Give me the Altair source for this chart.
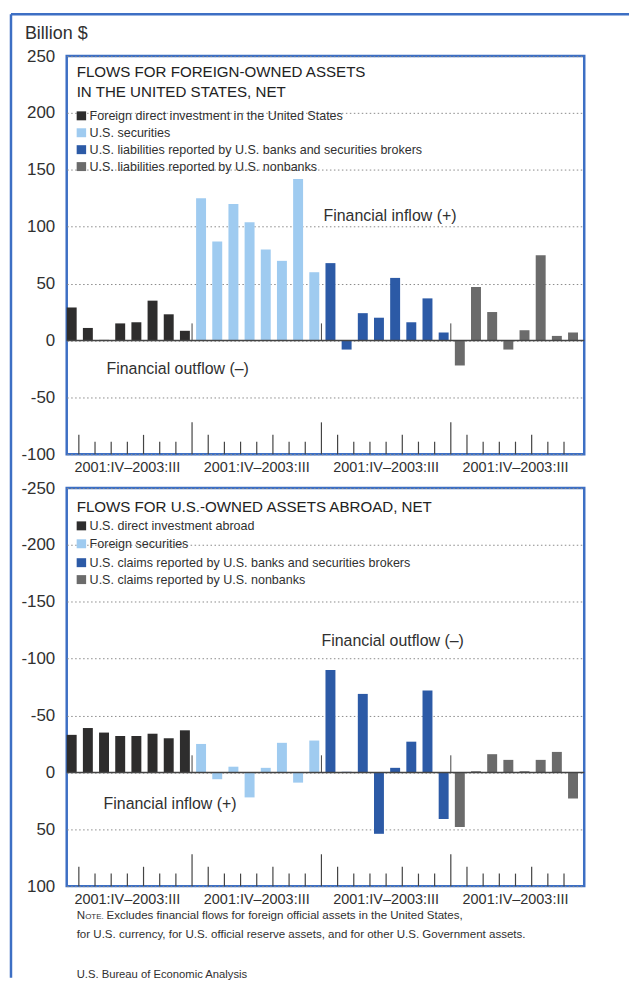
import altair as alt
import pandas as pd

# ---------------- data ----------------
quarters = ["2001:IV", "2002:I", "2002:II", "2002:III", "2002:IV", "2003:I", "2003:II", "2003:III"]
group_label = "2001:IV\u20132003:III"

top_title = ["FLOWS FOR FOREIGN-OWNED ASSETS", "IN THE UNITED STATES, NET"]
top_series = [
    "Foreign direct investment in the United States",
    "U.S. securities",
    "U.S. liabilities reported by U.S. banks and securities brokers",
    "U.S. liabilities reported by U.S. nonbanks",
]
top_fdi = [29, 11, 0.5, 15, 16, 35, 23, 8.5]
top_securities = [125, 87, 120, 104, 80, 70, 142, 60]
top_banks = [68, -8, 24, 20, 55, 16, 37, 7]
top_nonbanks = [-22, 47, 25, -8, 9, 75, 4, 7]

bottom_title = ["FLOWS FOR U.S.-OWNED ASSETS ABROAD, NET"]
bottom_series = [
    "U.S. direct investment abroad",
    "Foreign securities",
    "U.S. claims reported by U.S. banks and securities brokers",
    "U.S. claims reported by U.S. nonbanks",
]
bottom_dia = [-33, -39, -35, -32, -32, -34, -30, -37]
bottom_securities = [-25, 6, -5, 22, -4, -26, 9, -28]
bottom_banks = [-90, -0.5, -69, 54, -4, -27, -72, 41]
bottom_nonbanks = [48, -1, -16, -11, -1, -11, -18, 23]

top_ticks = [-100, -50, 0, 50, 100, 150, 200, 250]
bottom_ticks = [-250, -200, -150, -100, -50, 0, 50, 100]

# tick-mark length (billion $) at the end of each quarter within a group
minor_tick_len = [17, 11, 11, 11, 17, 11, 11, 28]

series_colors = ["#2e2d2d", "#9fcbf0", "#2c5aa6", "#6b6b6b"]
FRAME = "#3d6fc4"
TEXT = "#303030"
FONT = "Liberation Sans"

W, H = 520, 400
BAR_W = 0.615
NSLOT = 32


def bars_frame(names, values):
    rows = []
    for g, (name, vals) in enumerate(zip(names, values)):
        for q, (per, v) in enumerate(zip(quarters, vals)):
            s = g * 8 + q
            rows.append({"series": name, "quarter": per, "slot": s,
                         "slot_end": s + BAR_W, "value": v})
    return pd.DataFrame(rows)


def one(**kw):
    return alt.Chart(pd.DataFrame({k: [v] for k, v in kw.items()}))


def panel(names, values, ydomain, reverse, axis_values, title_lines, title_ys,
          legend_ys, annotations, direction, extras):
    df = bars_frame(names, values)
    xscale = alt.Scale(domain=[0, NSLOT], nice=False, zero=False)
    yscale = alt.Scale(domain=ydomain, nice=False, zero=False, reverse=reverse)
    yaxis = alt.Axis(values=axis_values, title=None, ticks=False, domain=False,
                     labelFontSize=17, labelPadding=12, labelColor=TEXT, labelFont=FONT,
                     labelExpr="'' + datum.value", grid=True, gridDash=[1.5, 2.5],
                     gridColor="#8a8a8a", gridWidth=1)

    def X(f):
        return alt.X(f, type="quantitative", scale=xscale, axis=None)

    def Y(f):
        return alt.Y(f, type="quantitative", scale=yscale, axis=yaxis)

    bars = alt.Chart(df).mark_bar().encode(
        x=X("slot"), x2="slot_end", y=Y("value"), y2=alt.datum(0),
        color=alt.Color("series:N", scale=alt.Scale(domain=names, range=series_colors), legend=None),
    )

    zero = one(z=0).mark_rule(color="#444444", strokeWidth=1.5).encode(y=Y("z"))

    base = ydomain[0] if not reverse else ydomain[1]
    tick_rows = []
    for j in range(1, NSLOT):
        ln = minor_tick_len[(j - 1) % 8]
        tick_rows.append({"tx": j - 0.25, "b": base, "t": base + direction * ln})
    ticks = alt.Chart(pd.DataFrame(tick_rows)).mark_rule(color="#444444", strokeWidth=1.2).encode(
        x=X("tx"), y=Y("b"), y2="t")

    sep_rows = [{"tx": j - 0.25, "b": 0, "t": direction * 15} for j in (8, 16, 24)]
    seps = alt.Chart(pd.DataFrame(sep_rows)).mark_rule(color="#444444", strokeWidth=1).encode(
        x=X("tx"), y=Y("b"), y2="t")

    glabels = alt.Chart(pd.DataFrame({"gx": [g * 8 + 3.75 for g in range(4)],
                                      "lab": [group_label] * 4})).mark_text(
        font=FONT, fontSize=14.5, color=TEXT, baseline="middle", align="center").encode(
        x=X("gx"), y=alt.value(H + 14), text="lab:N")

    layers = [bars, zero, seps, ticks, glabels]

    for line, yy in zip(title_lines, title_ys):
        layers.append(one(t=line).mark_text(font=FONT, fontSize=15.2, color="#222222",
                                            align="left", baseline="middle").encode(
            x=alt.value(10), y=alt.value(yy), text="t:N"))

    for name, col, yy in zip(names, series_colors, legend_ys):
        layers.append(one(c=0).mark_rect(color=col).encode(
            x=alt.value(10), x2=alt.value(19.5), y=alt.value(yy - 4.5), y2=alt.value(yy + 4.5)))
        layers.append(one(t=name).mark_text(font=FONT, fontSize=12.6, color=TEXT,
                                            align="left", baseline="middle").encode(
            x=alt.value(23), y=alt.value(yy), text="t:N"))

    for txt, ax, ay in annotations:
        layers.append(one(t=txt).mark_text(font=FONT, fontSize=16, color=TEXT,
                                           align="left", baseline="middle").encode(
            x=alt.value(ax), y=alt.value(ay), text="t:N"))

    layers.extend(extras)
    return alt.layer(*layers).properties(width=W, height=H)


top_extras = [
    one(t="Billion $").mark_text(font=FONT, fontSize=18, color=TEXT, align="left",
                                 baseline="middle").encode(x=alt.value(-42), y=alt.value(-22), text="t:N"),
    one(c=0).mark_rule(color=FRAME, strokeWidth=2.5).encode(
        x=alt.value(-56), x2=alt.value(565), y=alt.value(-42)),
    one(c=0).mark_rule(color=FRAME, strokeWidth=2.5).encode(
        x=alt.value(-56), y=alt.value(-42), y2=alt.value(926)),
]

NOTE_Y1, NOTE_Y2, SRC_Y = 429, 448, 488
NOTE_FS = 11.6
bottom_extras = [
    one(t="N").mark_text(font=FONT, fontSize=NOTE_FS, color=TEXT, align="left",
                         baseline="alphabetic").encode(x=alt.value(10), y=alt.value(NOTE_Y1 + 4.5), text="t:N"),
    one(t="OTE.").mark_text(font=FONT, fontSize=8, color=TEXT, align="left",
                            baseline="alphabetic").encode(x=alt.value(18.5), y=alt.value(NOTE_Y1 + 4.5), text="t:N"),
    one(t="Excludes financial flows for foreign official assets in the United States,").mark_text(
        font=FONT, fontSize=NOTE_FS, color=TEXT, align="left", baseline="alphabetic").encode(
        x=alt.value(40), y=alt.value(NOTE_Y1 + 4.5), text="t:N"),
    one(t="for U.S. currency, for U.S. official reserve assets, and for other U.S. Government assets.").mark_text(
        font=FONT, fontSize=NOTE_FS, color=TEXT, align="left", baseline="alphabetic").encode(
        x=alt.value(10), y=alt.value(NOTE_Y2 + 4.5), text="t:N"),
    one(t="U.S. Bureau of Economic Analysis").mark_text(
        font=FONT, fontSize=11.3, color=TEXT, align="left", baseline="alphabetic").encode(
        x=alt.value(10), y=alt.value(SRC_Y + 4.5), text="t:N"),
]

top = panel(top_series, [top_fdi, top_securities, top_banks, top_nonbanks],
            [-100, 250], False, top_ticks, top_title, [16, 36], [60, 77, 94, 111],
            [("Financial inflow (+)", 258, 161), ("Financial outflow (\u2013)", 40, 314)],
            1, top_extras)

bottom = panel(bottom_series, [bottom_dia, bottom_securities, bottom_banks, bottom_nonbanks],
               [-250, 100], True, bottom_ticks, bottom_title, [19], [38, 56, 75, 92],
               [("Financial outflow (\u2013)", 256, 154), ("Financial inflow (+)", 37, 318)],
               -1, bottom_extras)

chart = alt.vconcat(top, bottom, spacing=34, bounds="flush").resolve_scale(
    x="independent", y="independent", color="independent"
).properties(
    padding={"left": 0, "top": 1, "right": 0, "bottom": 0},
    background="white",
).configure_view(stroke=FRAME, strokeWidth=2.5)

chart.save("out.html", embed_options={"renderer": "svg", "actions": False})
